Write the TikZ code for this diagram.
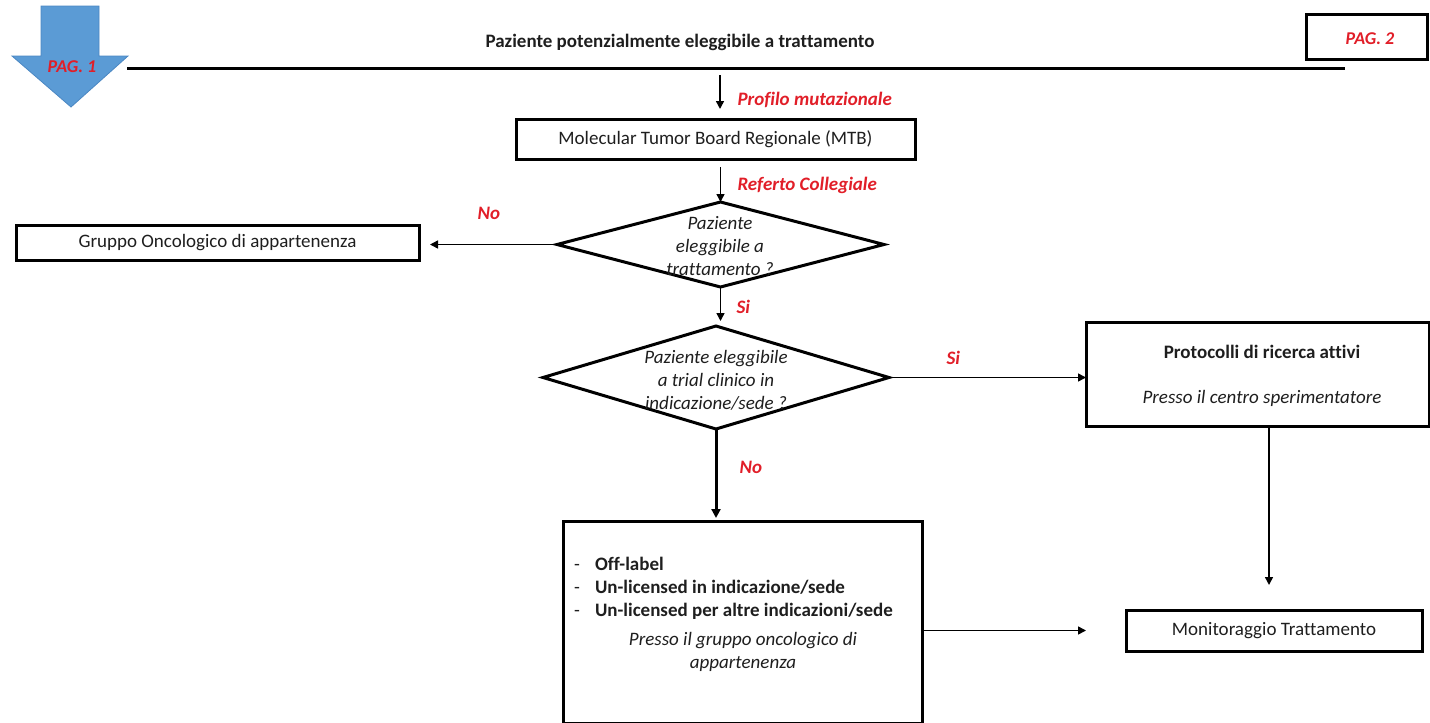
\documentclass[tikz,border=0pt]{standalone}
\usepackage{fontspec}
\setmainfont{Carlito}[Ligatures=NoCommon]
\usetikzlibrary{shapes.geometric,arrows.meta,calc}
\definecolor{pagred}{RGB}{225,30,40}
\definecolor{pagblue}{RGB}{91,155,213}
\definecolor{pagblueline}{RGB}{75,135,195}
\definecolor{ink}{RGB}{30,30,30}
\begin{document}
\begin{tikzpicture}[x=1pt,y=-1pt,
  every node/.style={font=\fontsize{19}{23}\selectfont, text=ink},
  box/.style={draw=black, line width=3pt, inner sep=0pt, outer sep=0pt},
  dia/.style={draw=black, line width=3pt, shape=diamond, inner sep=0pt, outer sep=0pt},
  ditext/.style={align=center, font=\fontsize{19}{23}\selectfont\itshape},
  lab/.style={anchor=west, text=pagred, font=\fontsize{19}{22}\selectfont\bfseries\itshape},
  arr/.style={draw=black, line width=1.5pt, -{Triangle[length=8pt,width=8pt]}},
  arrthick/.style={draw=black, line width=3pt, -{Triangle[length=9pt,width=9pt]}}
]
\useasboundingbox (0,0) rectangle (1430,723);
% PAG. 1 block arrow
\filldraw[fill=pagblue, draw=pagblueline, line width=0.8pt] (41,6) -- (99,6) -- (99,56) -- (128,56) -- (71,107) -- (12,56) -- (41,56) -- cycle;
\node[text=pagred, font=\fontsize{18}{20}\selectfont\bfseries\itshape] (pag1) at (72,67) {PAG. 1};
% title and line
\node[font=\fontsize{19}{22}\selectfont\bfseries] (title) at (680,42) {Paziente potenzialmente eleggibile a trattamento};
\coordinate (lineL) at (127,68);
\coordinate (lineR) at (1345,68);
\draw[line width=3pt] (lineL) -- (lineR);
\node[box, minimum width=121pt, minimum height=45pt] (pag2) at (1367,36.5) {};
\node[text=pagred, font=\fontsize{18}{20}\selectfont\bfseries\itshape] (pag2t) at (1370,39) {PAG. 2};
% MTB
\coordinate (a0) at (720,75);
\node[box, minimum width=399pt, minimum height=40pt] (mtb) at (715.5,139) {Molecular Tumor Board Regionale (MTB)};
\draw[arr, shorten >=10pt] (a0) -- (a0 |- mtb.north);
\node[lab] (l1) at (734,100) {Profilo mutazionale};
% diamond 1
\node[dia, minimum width=327pt, minimum height=85pt] (d1) at (720.5,244.5) {};
\node[ditext] (d1t) at (720,246) {Paziente\\eleggibile a\\trattamento ?};
\draw[arr, shorten <=8pt] (mtb.south -| d1.north) -- (d1.north);
\node[lab] (l2) at (734,185) {Referto Collegiale};
% Gruppo
\node[box, minimum width=403pt, minimum height=35pt] (grp) at (217.5,242.5) {Gruppo Oncologico di appartenenza};
\draw[arr, shorten >=11pt] (d1.west) -- (d1.west -| grp.east);
\node[lab] (l3) at (474,213) {No};
% diamond 2
\node[dia, minimum width=346pt, minimum height=103pt] (d2) at (716,377.5) {};
\node[ditext] (d2t) at (716,380) {Paziente eleggibile\\a trial clinico in\\indicazione/sede ?};
\draw[arr, shorten >=5pt] (d1.south) -- (d1.south |- d2.north);
\node[lab] (l4) at (733,307) {Si};
% Protocolli
\node[box, minimum width=343pt, minimum height=104pt] (prot) at (1257.5,374) {};
\node[align=center] (prott) at (1262,376) {\textbf{Protocolli di ricerca attivi}\\[22pt]\textit{Presso il centro sperimentatore}};
\draw[arr] (d2.east) -- (d2.east -| prot.west);
\node[lab] (l5) at (943,358) {Si};
% big box
\node[box, minimum width=359pt, minimum height=202pt] (big) at (742.5,622) {};
\node[anchor=north west, align=left, inner sep=0pt] (bigt) at (574,554) {%
  \begin{tabular}{@{}l@{\hspace{15pt}}l@{}}
  - & \textbf{Off-label}\\[0pt]
  - & \textbf{Un-licensed in indicazione/sede}\\[0pt]
  - & \textbf{Un-licensed per altre indicazioni/sede}
  \end{tabular}};
\node[align=center, font=\fontsize{19}{23}\selectfont\itshape] (bigi) at (743,652) {Presso il gruppo oncologico di\\appartenenza};
\draw[arrthick, shorten >=3pt] (d2.south) -- (d2.south |- big.north);
\node[lab] (l6) at (736,467) {No};
% Monitoraggio
\node[box, minimum width=296pt, minimum height=41pt] (mon) at (1274,630.5) {Monitoraggio Trattamento};
\coordinate (pv) at (1269,0);
\draw[arr, shorten >=40pt] (big.east |- mon) -- (mon.west);
\draw[arr, shorten >=25pt] (prot.south -| pv) -- (mon.north -| pv);
\end{tikzpicture}
\end{document}
